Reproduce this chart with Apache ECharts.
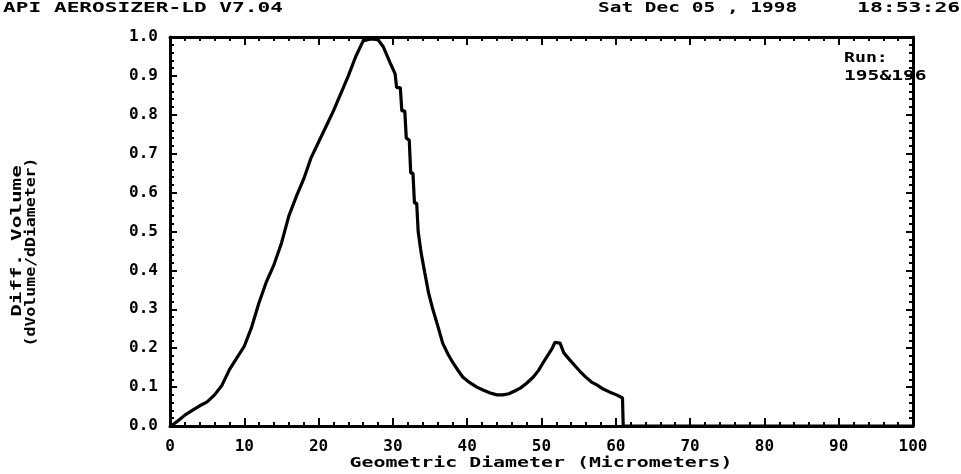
<!DOCTYPE html>
<html>
<head>
<meta charset="utf-8">
<script src="https://cdn.jsdelivr.net/npm/echarts@6/dist/echarts.min.js"></script>
<style>html,body{margin:0;padding:0;background:#fff}#c{width:961px;height:474px}</style>
</head>
<body>
<div id="c"></div>
<script>
const diameter = [0,0.5,1,2,3,4,5,6,7,8,9,10,11,12,13,14,15,16,17,18,19,20,21,22,23,24,25,26,27,28,28.7,29.6,30.3,30.5,31.0,31.2,31.6,31.8,32.2,32.4,32.7,32.9,33.2,33.4,33.8,34.3,34.8,35.4,36,36.7,37.4,38.1,38.8,39.4,40.3,41.3,42.2,43.1,44,44.8,45.6,46.4,47.2,48,48.9,49.6,50.2,50.8,51.4,51.8,52.5,53,53.8,54.5,55.2,56,56.8,57.5,58.3,59.2,60.1,60.9,61,70,80,90,100];
const volume   = [0,0.005,0.012,0.028,0.040,0.052,0.062,0.08,0.105,0.145,0.175,0.205,0.255,0.318,0.372,0.415,0.47,0.54,0.59,0.635,0.69,0.73,0.77,0.81,0.855,0.9,0.95,0.99,0.995,0.993,0.975,0.935,0.905,0.87,0.87,0.81,0.81,0.74,0.735,0.65,0.65,0.573,0.573,0.50,0.445,0.393,0.342,0.298,0.26,0.213,0.185,0.162,0.142,0.126,0.112,0.10,0.092,0.085,0.08,0.08,0.083,0.09,0.098,0.11,0.126,0.143,0.162,0.18,0.198,0.215,0.213,0.188,0.17,0.155,0.14,0.125,0.112,0.105,0.095,0.087,0.08,0.072,0,0,0,0,0];
const xTicks = [0,10,20,30,40,50,60,70,80,90,100];
const yTicks = [0.0,0.1,0.2,0.3,0.4,0.5,0.6,0.7,0.8,0.9,1.0];
const headerLeft = 'API AEROSIZER-LD V7.04';
const headerDate = 'Sat Dec 05 , 1998';
const headerTime = '18:53:26';
const runLabel = ['Run:', '195&196'];
const xName = 'Geometric Diameter (Micrometers)';
const yName = ['Diff. Volume', '(dVolume/dDiameter)'];

const FONT = 'DejaVu Sans Mono';
const chart = echarts.init(document.getElementById('c'));
const lineStyle = {color:'#000', width:3};
const mkX = (pos, show) => ({
  type:'value', position:pos, min:0, max:100, interval:10,
  axisLine:{show:true, onZero:false, lineStyle},
  axisTick:{show:true, inside:true, length:8, lineStyle:{color:'#000', width:2}},
  minorTick:{show:true, splitNumber:5, length:4, lineStyle:{color:'#000', width:2}},
  splitLine:{show:false},
  axisLabel:{show:show, margin:13, color:'#000', fontFamily:FONT, fontWeight:'bold', fontSize:16,
    formatter:v => xTicks.includes(v) ? String(v) : ''}
});
const mkY = (pos, show) => ({
  type:'value', position:pos, min:0, max:1, interval:0.1,
  axisLine:{show:true, onZero:false, lineStyle},
  axisTick:{show:true, inside:true, length:7, lineStyle:{color:'#000', width:2}},
  minorTick:{show:true, splitNumber:5, length:4, lineStyle:{color:'#000', width:2}},
  splitLine:{show:false},
  axisLabel:{show:show, margin:12, color:'#000', fontFamily:FONT, fontWeight:'bold', fontSize:16,
    formatter:v => { const t = yTicks.find(t => Math.abs(t - v) < 1e-6); return t === undefined ? '' : t.toFixed(1); }}
});
const txt = (x, y, text, sx, extra) => ({type:'text', x, y, scaleX:sx, z:10, style:Object.assign({text, fill:'#000',
  font:'bold 14px "' + FONT + '"', textVerticalAlign:'middle'}, extra || {})});

chart.setOption({
  animation:false,
  backgroundColor:'#fff',
  grid:{left:170, right:48, top:37, bottom:48},
  xAxis:[mkX('bottom', true), mkX('top', false)],
  yAxis:[mkY('left', true), mkY('right', false)],
  series:[{
    type:'line', xAxisIndex:0, yAxisIndex:0, showSymbol:false, symbol:'none',
    lineStyle:{color:'#000', width:3.2}, clip:true,
    data: diameter.map((d, i) => [d, volume[i]])
  }],
  graphic:[
    txt(3, 8, headerLeft, 1.51),
    txt(598, 8, headerDate, 1.39),
    txt(857, 8, headerTime, 1.53),
    txt(844, 58, runLabel[0], 1.3),
    txt(844, 76, runLabel[1], 1.4),
    txt(541, 463, xName, 1.42, {textAlign:'center'}),
    {type:'text', x:17, y:241, rotation:Math.PI/2, scaleX:1.5, style:{text:yName[0], fill:'#000', font:'bold 14px "' + FONT + '"', textAlign:'center', textVerticalAlign:'middle'}},
    {type:'text', x:31, y:252, rotation:Math.PI/2, scaleX:1.18, style:{text:yName[1], fill:'#000', font:'bold 14px "' + FONT + '"', textAlign:'center', textVerticalAlign:'middle'}}
  ]
});
</script>
</body>
</html>
